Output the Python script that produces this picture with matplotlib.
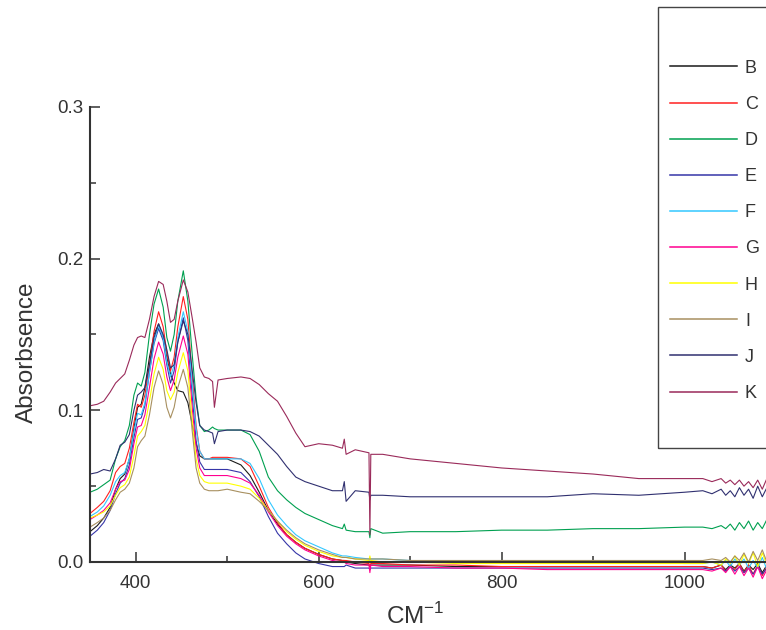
import matplotlib
matplotlib.use("Agg")
import matplotlib.pyplot as plt
from matplotlib.ticker import MultipleLocator, FormatStrFormatter
from matplotlib.patches import Rectangle

plt.rcParams['font.family'] = ['Liberation Sans', 'DejaVu Sans']
plt.rcParams['mathtext.fontset'] = 'custom'
plt.rcParams['mathtext.rm'] = 'Liberation Sans'

# wavenumber grid (cm-1)
x = [350, 358, 365, 372, 378, 383, 388, 393, 398, 402,
     406, 410, 415, 420, 425, 430, 434, 438, 442, 446,
     452, 457, 462, 466, 470, 475, 480, 484, 486, 490,
     500, 515, 525, 535, 545, 555, 565, 575, 585, 600,
     615, 626, 628, 630, 640, 655, 656, 657, 670, 700,
     750, 800, 850, 900, 950, 1000,
     1020, 1030, 1040, 1045, 1050, 1055, 1060, 1065, 1070, 1075,
     1080, 1085, 1090, 1095, 1100]

B = [0.020, 0.024, 0.029, 0.036, 0.048, 0.055, 0.058, 0.068, 0.088, 0.102,
     0.104, 0.115, 0.135, 0.150, 0.157, 0.148, 0.135, 0.124, 0.118, 0.113,
     0.112, 0.105, 0.090, 0.078, 0.070, 0.068, 0.068, 0.068, 0.068, 0.068,
     0.068, 0.064, 0.057, 0.046, 0.034, 0.025, 0.018, 0.013, 0.009, 0.005,
     0.002, 0.001, 0.001, 0.000, -0.001, -0.002, -0.003, -0.002, -0.002, -0.002,
     -0.003, -0.003, -0.003, -0.003, -0.003, -0.003,
     -0.003, -0.004, -0.002, -0.005, -0.002, -0.004, -0.001, -0.006, -0.002, -0.005,
     -0.001, -0.007, -0.002, -0.006, -0.003]

C = [0.032, 0.036, 0.040, 0.047, 0.059, 0.063, 0.065, 0.075, 0.092, 0.104,
     0.102, 0.110, 0.130, 0.152, 0.165, 0.155, 0.138, 0.126, 0.135, 0.155,
     0.175, 0.160, 0.120, 0.090, 0.073, 0.068, 0.068, 0.069, 0.069, 0.069,
     0.069, 0.068, 0.063, 0.050, 0.036, 0.026, 0.018, 0.013, 0.009, 0.005,
     0.002, 0.001, 0.001, 0.001, 0.000, -0.001, -0.003, -0.001, -0.001, -0.002,
     -0.002, -0.003, -0.003, -0.003, -0.003, -0.003,
     -0.003, -0.004, -0.002, -0.006, -0.003, -0.005, -0.001, -0.007, -0.002, -0.008,
     -0.002, -0.009, -0.003, -0.008, -0.004]

D = [0.046, 0.048, 0.051, 0.054, 0.068, 0.076, 0.080, 0.090, 0.110, 0.118,
     0.116, 0.125, 0.150, 0.170, 0.180, 0.168, 0.148, 0.139, 0.150, 0.172,
     0.192, 0.172, 0.135, 0.108, 0.090, 0.086, 0.087, 0.089, 0.088, 0.087,
     0.087, 0.087, 0.084, 0.073, 0.056, 0.047, 0.041, 0.036, 0.032, 0.028,
     0.024, 0.022, 0.025, 0.021, 0.020, 0.020, 0.016, 0.022, 0.019, 0.020,
     0.020, 0.021, 0.021, 0.022, 0.022, 0.023,
     0.023, 0.022, 0.024, 0.022, 0.025, 0.021, 0.026, 0.022, 0.027, 0.021,
     0.026, 0.022, 0.028, 0.023, 0.026]

E = [0.017, 0.021, 0.026, 0.034, 0.045, 0.052, 0.055, 0.064, 0.082, 0.094,
     0.095, 0.103, 0.125, 0.144, 0.154, 0.146, 0.130, 0.118, 0.126, 0.145,
     0.161, 0.146, 0.108, 0.080, 0.066, 0.061, 0.061, 0.061, 0.061, 0.061,
     0.061, 0.059, 0.053, 0.043, 0.030, 0.019, 0.012, 0.006, 0.002, -0.001,
     -0.003, -0.003, -0.003, -0.002, -0.004, -0.004, -0.005, -0.004, -0.004, -0.004,
     -0.004, -0.004, -0.004, -0.004, -0.004, -0.004,
     -0.004, -0.005, -0.004, -0.006, -0.003, -0.006, -0.003, -0.007, -0.004, -0.008,
     -0.003, -0.008, -0.004, -0.007, -0.005]

F = [0.030, 0.033, 0.037, 0.044, 0.053, 0.057, 0.059, 0.068, 0.086, 0.098,
     0.097, 0.105, 0.125, 0.145, 0.156, 0.148, 0.132, 0.122, 0.130, 0.148,
     0.165, 0.152, 0.115, 0.088, 0.073, 0.068, 0.068, 0.068, 0.068, 0.068,
     0.068, 0.068, 0.065, 0.055, 0.041, 0.031, 0.024, 0.018, 0.014, 0.010,
     0.006, 0.004, 0.004, 0.004, 0.003, 0.002, 0.001, 0.002, 0.002, 0.001,
     0.000, 0.000, 0.000, 0.000, 0.000, -0.001,
     -0.001, 0.000, -0.002, 0.001, -0.003, 0.002, -0.002, 0.002, -0.004, 0.001,
     -0.004, 0.003, -0.005, 0.001, -0.003]

G = [0.028, 0.031, 0.034, 0.039, 0.048, 0.053, 0.054, 0.061, 0.078, 0.089,
     0.090, 0.097, 0.115, 0.134, 0.145, 0.137, 0.122, 0.113, 0.120, 0.135,
     0.149, 0.137, 0.100, 0.075, 0.062, 0.057, 0.057, 0.057, 0.057, 0.057,
     0.057, 0.055, 0.052, 0.044, 0.033, 0.024, 0.017, 0.012, 0.008, 0.004,
     0.001, 0.000, 0.000, -0.001, -0.002, -0.002, -0.007, -0.002, -0.003, -0.003,
     -0.004, -0.004, -0.005, -0.005, -0.005, -0.005,
     -0.005, -0.006, -0.004, -0.007, -0.003, -0.008, -0.003, -0.009, -0.004, -0.010,
     -0.003, -0.011, -0.005, -0.010, -0.007]

H = [0.029, 0.031, 0.033, 0.037, 0.044, 0.049, 0.051, 0.056, 0.070, 0.083,
     0.086, 0.090, 0.106, 0.124, 0.135, 0.127, 0.113, 0.107, 0.112, 0.125,
     0.138, 0.126, 0.092, 0.068, 0.057, 0.053, 0.052, 0.052, 0.052, 0.052,
     0.052, 0.050, 0.048, 0.042, 0.034, 0.027, 0.020, 0.015, 0.011, 0.007,
     0.004, 0.003, 0.003, 0.003, 0.002, 0.001, 0.004, 0.001, 0.000, 0.000,
     -0.001, -0.001, -0.001, -0.001, -0.001, -0.001,
     -0.001, 0.000, -0.002, 0.002, -0.001, 0.004, -0.002, 0.005, -0.001, 0.006,
     -0.003, 0.006, -0.002, 0.005, -0.001]

I = [0.023, 0.026, 0.029, 0.034, 0.041, 0.046, 0.048, 0.052, 0.062, 0.076,
     0.080, 0.083, 0.097, 0.115, 0.126, 0.117, 0.102, 0.095, 0.102, 0.115,
     0.127, 0.115, 0.085, 0.062, 0.052, 0.048, 0.047, 0.047, 0.047, 0.047,
     0.048, 0.046, 0.045, 0.040, 0.034, 0.027, 0.021, 0.016, 0.012, 0.008,
     0.005, 0.003, 0.003, 0.003, 0.002, 0.002, 0.002, 0.002, 0.002, 0.001,
     0.001, 0.001, 0.001, 0.001, 0.001, 0.001,
     0.001, 0.002, 0.001, 0.003, 0.000, 0.004, 0.001, 0.006, 0.000, 0.007,
     0.001, 0.008, 0.000, 0.007, 0.003]

J = [0.058, 0.059, 0.061, 0.060, 0.068, 0.077, 0.079, 0.084, 0.100, 0.110,
     0.112, 0.115, 0.130, 0.148, 0.157, 0.150, 0.140, 0.128, 0.130, 0.145,
     0.159, 0.150, 0.125, 0.105, 0.090, 0.087, 0.086, 0.085, 0.078, 0.086,
     0.087, 0.087, 0.086, 0.083, 0.077, 0.071, 0.063, 0.056, 0.053, 0.050,
     0.047, 0.047, 0.053, 0.040, 0.047, 0.046, 0.041, 0.044, 0.044, 0.043,
     0.043, 0.043, 0.043, 0.045, 0.044, 0.046,
     0.047, 0.045, 0.048, 0.044, 0.047, 0.043, 0.049, 0.044, 0.048, 0.042,
     0.050, 0.043, 0.049, 0.042, 0.048]

K = [0.103, 0.104, 0.106, 0.112, 0.118, 0.121, 0.124, 0.133, 0.143, 0.148,
     0.149, 0.148, 0.160, 0.175, 0.185, 0.183, 0.172, 0.158, 0.160, 0.172,
     0.186, 0.178, 0.160, 0.145, 0.128, 0.122, 0.121, 0.119, 0.102, 0.120,
     0.121, 0.122, 0.121, 0.117, 0.111, 0.106, 0.096, 0.085, 0.076, 0.078,
     0.077, 0.075, 0.081, 0.071, 0.074, 0.072, 0.018, 0.071, 0.071, 0.068,
     0.065, 0.062, 0.060, 0.058, 0.055, 0.055,
     0.055, 0.053, 0.055, 0.052, 0.054, 0.051, 0.054, 0.050, 0.053, 0.049,
     0.054, 0.048, 0.055, 0.050, 0.058]

labels = ['B', 'C', 'D', 'E', 'F', 'G', 'H', 'I', 'J', 'K']
series = [B, C, D, E, F, G, H, I, J, K]
colors = ['#1a1a1a', '#ff2020', '#00a050', '#3535a8', '#33c8ff',
          '#ff0090', '#ffff00', '#a89060', '#303070', '#9a2a5a']

fig = plt.figure(figsize=(7.66, 6.3), dpi=100)
ax = fig.add_axes([90/766, 68/630, 686/766, 455/630])

for lab, ys, c in zip(labels, series, colors):
    ax.plot(x, ys, color=c, lw=0.8, label=lab, clip_on=False)

ax.set_xlim(350, 1100)
ax.set_ylim(0, 0.3)
ax.spines['top'].set_visible(False)
ax.spines['right'].set_visible(False)
for s in ['left', 'bottom']:
    ax.spines[s].set_linewidth(1.5)
    ax.spines[s].set_color('#333333')

ax.xaxis.set_major_locator(MultipleLocator(200))
ax.xaxis.set_minor_locator(MultipleLocator(100))
ax.yaxis.set_major_locator(MultipleLocator(0.1))
ax.yaxis.set_minor_locator(MultipleLocator(0.05))
ax.yaxis.set_major_formatter(FormatStrFormatter('%.1f'))
ax.tick_params(which='both', direction='in', color='#333333', width=1.1,
               labelsize=13.5, labelcolor='#333333')
ax.tick_params(which='major', length=7.5)
ax.tick_params(which='minor', length=4.5)
ax.tick_params(axis='x', pad=9)
ax.tick_params(axis='y', pad=5)

ax.set_xlabel('CM$^{\\mathregular{-1}}$', fontsize=17.5, color='#333333')
ax.xaxis.set_label_coords((415-90)/686, -0.09)
ax.set_ylabel('Absorbsence', fontsize=17.5, color='#333333')
ax.yaxis.set_label_coords(-0.076, 0.46)

leg = fig.legend(loc='upper left', bbox_to_anchor=(670/766, 1 - 59.7/630),
                 frameon=False, fontsize=13, handlelength=3.71,
                 handletextpad=0.44, labelspacing=1.06, borderpad=0,
                 borderaxespad=0)
for t in leg.get_texts():
    t.set_color('#333333')
for h in leg.legend_handles:
    h.set_linewidth(1.1)
fig.add_artist(Rectangle((658/766, 1 - 448/630), 150/766, 441/630,
                         transform=fig.transFigure, fill=False,
                         edgecolor='#444444', lw=1.0))

fig.savefig('out.png', dpi=100)
